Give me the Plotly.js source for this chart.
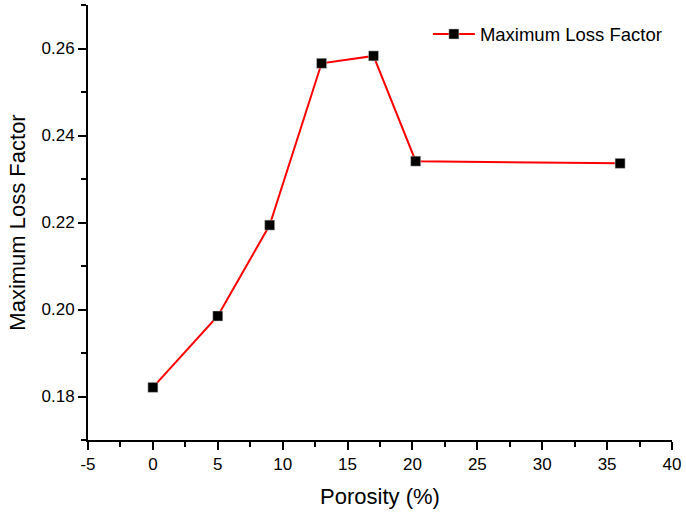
<!DOCTYPE html>
<html>
<head>
<meta charset="utf-8">
<script src="https://cdn.plot.ly/plotly-3.0.1.min.js"></script>
<style>html,body{margin:0;padding:0;background:#fff;}#chart{width:686px;height:515px;}</style>
</head>
<body>
<div id="chart"></div>
<script>
const porosity = [0, 5, 9, 13, 17, 20.25, 36];
const lossFactor = [0.1821, 0.1985, 0.2194, 0.2566, 0.2583, 0.2341, 0.2336];
const seriesName = 'Maximum Loss Factor';
const xTitle = 'Porosity (%)';
const yTitle = 'Maximum Loss Factor';
const xTickVals = [-5, 0, 5, 10, 15, 20, 25, 30, 35, 40];
const xTickText = ['-5', '0', '5', '10', '15', '20', '25', '30', '35', '40'];

const trace = {
  x: porosity, y: lossFactor, name: seriesName,
  type: 'scatter', mode: 'lines+markers',
  line: {color: '#ff0000', width: 2},
  marker: {symbol: 'square', size: 10, color: '#000000', line: {color: '#cccccc', width: 0.5}}
};
const font = {family: 'Arial, "Liberation Sans", sans-serif', color: '#000'};
const layout = {
  width: 686, height: 515,
  margin: {l: 88, r: 14, t: 5, b: 75, pad: 0},
  paper_bgcolor: '#fff', plot_bgcolor: '#fff',
  font: font,
  showlegend: true,
  legend: {x: 0.582, y: 0.976, xanchor: 'left', yanchor: 'top', itemwidth: 42, bgcolor: 'rgba(0,0,0,0)', font: {size: 18.5, family: font.family, color: '#000'}},
  xaxis: {
    range: [-5, 40], tickmode: 'array', tickvals: xTickVals, ticktext: xTickText,
    showgrid: false, zeroline: false,
    showline: true, linecolor: '#000', linewidth: 2,
    ticks: 'outside', ticklen: 8, tickwidth: 2, tickcolor: '#000',
    minor: {dtick: 2.5, tick0: 0, ticks: 'outside', ticklen: 5, tickwidth: 2, tickcolor: '#000', showgrid: false},
    tickfont: {size: 17, family: font.family, color: '#000'},
    title: {text: xTitle, font: {size: 22, family: font.family, color: '#000'}, standoff: 15}
  },
  yaxis: {
    range: [0.17, 0.27], dtick: 0.02, tick0: 0.18, tickformat: '.2f',
    showgrid: false, zeroline: false,
    showline: true, linecolor: '#000', linewidth: 2,
    ticks: 'outside', ticklen: 8, tickwidth: 2, tickcolor: '#000',
    minor: {dtick: 0.01, tick0: 0.17, ticks: 'outside', ticklen: 5, tickwidth: 2, tickcolor: '#000', showgrid: false},
    tickfont: {size: 17, family: font.family, color: '#000'},
    title: {text: yTitle, font: {size: 22, family: font.family, color: '#000'}, standoff: 10}
  }
};
Plotly.newPlot('chart', [trace], layout, {displayModeBar: false, staticPlot: true});
</script>
</body>
</html>
